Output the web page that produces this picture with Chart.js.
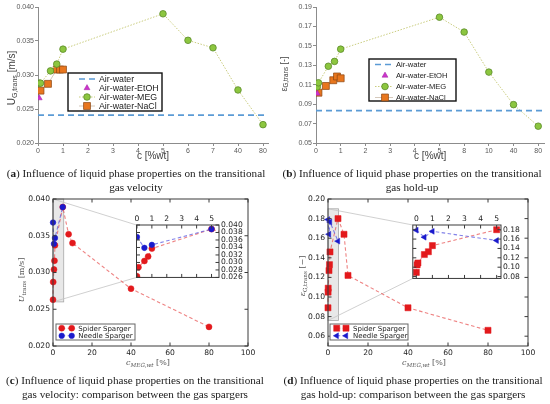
<!DOCTYPE html>
<html>
<head>
<meta charset="utf-8">
<script src="https://cdn.jsdelivr.net/npm/chart.js@4.4.0/dist/chart.umd.min.js"></script>
<style>
  body { margin: 0; background: #fff; }
  #wrap { position: relative; width: 550px; height: 404px; overflow: hidden; }
  canvas { position: absolute; }
  .lbl { position: absolute; white-space: nowrap; transform: translate(-50%, -50%); }
  .rot { transform: translate(-50%, -50%) rotate(-90deg); }
  .xl { font-family: "Liberation Sans", sans-serif; color: #404040; }
  .ml { font-family: "DejaVu Serif", serif; color: #555; font-size: 8px; }
  .lbl sub { font-size: 70%; vertical-align: -0.25em; }
  .cap { position: absolute; white-space: nowrap; transform: translateX(-50%); text-align: center;
         font-family: "Liberation Serif", serif; font-size: 11.2px; color: #1a1a1a; line-height: 14px; }
</style>
</head>
<body>
<div id="wrap">
  <canvas id="ca" width="275" height="162" style="left:0;top:0"></canvas>
  <canvas id="cb" width="275" height="162" style="left:275px;top:0"></canvas>
  <canvas id="cc" width="275" height="180" style="left:0;top:190px"></canvas>
  <canvas id="ccIn" width="127" height="73" style="left:132px;top:211px"></canvas>
  <canvas id="cd" width="275" height="180" style="left:275px;top:190px"></canvas>
  <canvas id="cdIn" width="117" height="74" style="left:408px;top:211px"></canvas>

  <div class="lbl rot xl" style="left:12px;top:78px;font-size:10px">U<sub>G,trans</sub> [m/s]</div>
  <div class="lbl rot xl" style="left:284px;top:74px;font-size:9px">ε<sub>G,trans</sub> [-]</div>
  <div class="lbl rot ml" style="left:22px;top:280px"><i>U</i><sub>trans</sub> [m/s]</div>
  <div class="lbl rot ml" style="left:303px;top:276px"><i>ε</i><sub>G,trans</sub> [−]</div>
  <div class="lbl ml" style="left:148px;top:363px"><i>c<sub>MEG,wt</sub></i> [%]</div>
  <div class="lbl ml" style="left:424px;top:363px"><i>c<sub>MEG,wt</sub></i> [%]</div>

  <div class="cap" style="left:136px;top:166px">(<b>a</b>) Influence of liquid phase properties on the transitional<br>gas velocity</div>
  <div class="cap" style="left:412px;top:166px">(<b>b</b>) Influence of liquid phase properties on the transitional<br>gas hold-up</div>
  <div class="cap" style="left:135px;top:373px">(<b>c</b>) Influence of liquid phase properties on the transitional<br>gas velocity: comparison between the gas spargers</div>
  <div class="cap" style="left:413px;top:373px">(<b>d</b>) Influence of liquid phase properties on the transitional<br>gas hold-up: comparison between the gas spargers</div>
</div>

<script>
// ---- (a) transitional gas velocity, Excel style, uneven concentration axis
const A_TICKS = [0, 1, 2, 3, 4, 5, 6, 7, 40, 80];
const A_WATER_U = 0.0241;
const A_ETOH_C = [0.05];
const A_ETOH_U = [0.0266];
const A_MEG_C = [0.05, 0.1, 0.5, 0.75, 1, 5, 6, 7, 40, 80];
const A_MEG_U = [0.0288, 0.0288, 0.0306, 0.0316, 0.0338, 0.0390, 0.0351, 0.0340, 0.0278, 0.0227];
const A_NACL_C = [0.1, 0.4, 0.75, 0.88, 1];
const A_NACL_U = [0.0277, 0.0287, 0.0308, 0.0308, 0.0308];

// ---- (b) transitional gas hold-up
const B_TICKS = [0, 1, 2, 3, 4, 5, 8, 10, 40, 80];
const B_WATER_E = 0.0833;
const B_ETOH_C = [0.05];
const B_ETOH_E = [0.101];
const B_MEG_C = [0.05, 0.1, 0.5, 0.75, 1, 5, 8, 10, 40, 80];
const B_MEG_E = [0.1077, 0.112, 0.129, 0.134, 0.1466, 0.1795, 0.1642, 0.123, 0.0895, 0.0673];
const B_NACL_C = [0.1, 0.4, 0.7, 0.85, 1];
const B_NACL_E = [0.1018, 0.1087, 0.1146, 0.1185, 0.1166];

// ---- (c) spargers, velocity
const C_SPIDER_C = [0, 0.1, 0.5, 0.75, 1, 5, 8, 10, 40, 80];
const C_SPIDER_U = [0.0263, 0.0287, 0.0304, 0.0316, 0.0337, 0.0389, 0.0352, 0.0340, 0.0278, 0.0226];
const C_NEEDLE_C = [0, 0.5, 1, 5];
const C_NEEDLE_U = [0.0368, 0.0339, 0.0347, 0.0389];
const C_Y_TICKS = [0.020, 0.025, 0.030, 0.035, 0.040];
const C_IN_X_TICKS = [0, 1, 2, 3, 4, 5];
const C_IN_Y_TICKS = [0.026, 0.028, 0.030, 0.032, 0.034, 0.036, 0.038, 0.040];

// ---- (d) spargers, hold-up
const D_SPIDER_C = [0, 0.05, 0.1, 0.5, 0.75, 1, 5, 8, 10, 40, 80];
const D_SPIDER_E = [0.089, 0.105, 0.109, 0.127, 0.133, 0.146, 0.180, 0.164, 0.122, 0.089, 0.066];
const D_NEEDLE_C = [0, 0.5, 1, 5];
const D_NEEDLE_E = [0.179, 0.164, 0.1765, 0.157];
const D_Y_TICKS = [0.06, 0.08, 0.10, 0.12, 0.14, 0.16, 0.18, 0.20];
const D_IN_X_TICKS = [0, 1, 2, 3, 4, 5];
const D_IN_Y_TICKS = [0.08, 0.10, 0.12, 0.14, 0.16, 0.18];

Chart.defaults.font.family = '"Liberation Sans", sans-serif';
Chart.defaults.animation = false;

// position on an axis whose tick labels are evenly spaced but not evenly valued
function axisPos(ticks, c) {
  for (let i = 0; i < ticks.length - 1; i++) {
    if (c <= ticks[i + 1]) return i + (c - ticks[i]) / (ticks[i + 1] - ticks[i]);
  }
  return ticks.length - 1;
}
function pts(cs, ys, ticks) {
  return cs.map((c, i) => ({ x: ticks ? axisPos(ticks, c) : c, y: ys[i] }));
}
function fixTicks(values) {
  return scale => { scale.ticks = values.map(v => ({ value: v })); };
}

function drawMark(ctx, ds, x, y) {
  if (!ds.pointRadius) return;
  ctx.save();
  ctx.fillStyle = ds.pointBackgroundColor;
  ctx.strokeStyle = ds.pointBorderColor;
  ctx.lineWidth = ds.pointBorderWidth || 0;
  ctx.setLineDash([]);
  Chart.helpers.drawPoint(ctx, {
    pointStyle: ds.pointStyle, rotation: ds.pointRotation || 0,
    radius: ds.pointRadius, borderWidth: ds.pointBorderWidth || 0
  }, x, y);
  ctx.restore();
}

// legend drawn inside the plot area
const boxLegend = {
  id: 'boxLegend',
  afterDraw(chart, args, o) {
    if (!o.items) return;
    const ctx = chart.ctx, a = chart.chartArea;
    const bx = a.left + o.dx, by = a.top + o.dy;
    ctx.save();
    ctx.fillStyle = '#fff';
    ctx.fillRect(bx, by, o.w, o.h);
    ctx.strokeStyle = o.border;
    ctx.lineWidth = o.borderWidth;
    ctx.strokeRect(bx, by, o.w, o.h);
    ctx.font = o.font;
    ctx.textBaseline = 'middle';
    o.items.forEach((idx, i) => {
      const ds = chart.data.datasets[idx];
      const cy = by + o.first + o.rowH * i;
      if (ds.showLine) {
        ctx.save();
        ctx.strokeStyle = ds.borderColor;
        ctx.lineWidth = ds.borderWidth;
        ctx.setLineDash(ds.borderDash || []);
        ctx.beginPath();
        ctx.moveTo(bx + o.line[0], cy);
        ctx.lineTo(bx + o.line[1], cy);
        ctx.stroke();
        ctx.restore();
      }
      o.marks.forEach(mx => drawMark(ctx, ds, bx + mx, cy));
      ctx.fillStyle = o.color;
      ctx.fillText(ds.label, bx + o.textX, cy + 0.5);
    });
    ctx.restore();
  }
};

// matplotlib-like frame with inward ticks on all sides
const mplFrame = {
  id: 'mplFrame',
  afterDatasetsDraw(chart, args, o) {
    if (!o.on) return;
    const { ctx, chartArea: a, scales } = chart;
    const L = 3.5;
    ctx.save();
    ctx.strokeStyle = '#3a3a3a';
    ctx.lineWidth = 1;
    ctx.strokeRect(a.left, a.top, a.right - a.left, a.bottom - a.top);
    ctx.beginPath();
    scales.x.ticks.forEach(t => {
      const p = scales.x.getPixelForValue(t.value);
      ctx.moveTo(p, a.top); ctx.lineTo(p, a.top + L);
      ctx.moveTo(p, a.bottom); ctx.lineTo(p, a.bottom - L);
    });
    scales.y.ticks.forEach(t => {
      const p = scales.y.getPixelForValue(t.value);
      ctx.moveTo(a.left, p); ctx.lineTo(a.left + L, p);
      ctx.moveTo(a.right, p); ctx.lineTo(a.right - L, p);
    });
    ctx.stroke();
    ctx.restore();
  }
};

// white background for inset axes
const insetBg = {
  id: 'insetBg',
  beforeDraw(chart, args, o) {
    if (!o.on) return;
    const a = chart.chartArea;
    chart.ctx.save();
    chart.ctx.fillStyle = '#fff';
    chart.ctx.fillRect(a.left, a.top, a.right - a.left, a.bottom - a.top);
    chart.ctx.restore();
  }
};

// shaded zoom region + connector lines to the inset
const zoomMark = {
  id: 'zoomMark',
  beforeDatasetsDraw(chart, args, o) {
    if (!o.inset) return;
    const { ctx, scales: { x, y } } = chart;
    const ins = o.inset, ia = ins.chartArea;
    const x0 = x.getPixelForValue(Math.max(ins.scales.x.min, x.min));
    const x1 = x.getPixelForValue(ins.scales.x.max);
    const yT = y.getPixelForValue(ins.scales.y.max);
    const yB = y.getPixelForValue(ins.scales.y.min);
    const dx = ins.canvas.offsetLeft - chart.canvas.offsetLeft;
    const dy = ins.canvas.offsetTop - chart.canvas.offsetTop;
    ctx.save();
    ctx.fillStyle = 'rgba(190,190,190,0.35)';
    ctx.fillRect(x0, yT, x1 - x0, yB - yT);
    ctx.strokeStyle = 'rgba(160,160,160,0.9)';
    ctx.lineWidth = 0.8;
    ctx.strokeRect(x0, yT, x1 - x0, yB - yT);
    ctx.strokeStyle = '#c4c4c4';
    ctx.beginPath();
    ctx.moveTo(x0, yT); ctx.lineTo(ia.left + dx, ia.top + dy);
    ctx.moveTo(x0, yB); ctx.lineTo(ia.left + dx, ia.bottom + dy);
    ctx.stroke();
    ctx.restore();
  }
};

const PLUGINS = [insetBg, zoomMark, mplFrame, boxLegend];

// ---------- Excel-style panels (a) and (b)
function excelChart(id, o) {
  const water = { label: 'Air-water', data: [{ x: 0, y: o.water }, { x: o.xMax, y: o.water }],
    showLine: true, borderColor: '#5b9bd5', borderWidth: 1.6, borderDash: [6, 4], pointRadius: 0 };
  const etoh = { label: 'Air-water-EtOH', data: o.etoh, showLine: false,
    pointStyle: 'triangle', pointRadius: 3.4, pointBackgroundColor: '#cc33cc',
    pointBorderColor: '#a020a0', pointBorderWidth: 0.5 };
  const meg = { label: 'Air-water-MEG', data: o.meg, showLine: true,
    borderColor: '#c9cc7e', borderWidth: 1, borderDash: [1.5, 1.5],
    pointStyle: 'circle', pointRadius: 3.3, pointBackgroundColor: '#8cc63f',
    pointBorderColor: '#5b8a2a', pointBorderWidth: 0.8 };
  const nacl = { label: 'Air-water-NaCl', data: o.nacl, showLine: true,
    borderColor: '#b9a58f', borderWidth: 0.6,
    pointStyle: 'rect', pointRadius: 4.9, pointBackgroundColor: '#e8761e',
    pointBorderColor: '#8a4612', pointBorderWidth: 0.7 };
  return new Chart(document.getElementById(id), {
    type: 'scatter',
    data: { datasets: [water, etoh, meg, nacl] },
    options: {
      responsive: false,
      layout: { padding: { top: 7, right: o.padRight, left: 0, bottom: 0 } },
      plugins: {
        legend: { display: false }, tooltip: { enabled: false },
        boxLegend: o.legend
      },
      scales: {
        x: {
          type: 'linear', min: 0, max: o.xMax,
          afterBuildTicks: fixTicks(o.ticks.map((_, i) => i)),
          afterFit: s => { s.height = 19; },
          ticks: { autoSkip: false, maxRotation: 0, padding: 1, color: '#595959',
                   font: { size: 7 }, callback: v => o.ticks[v] },
          grid: { drawOnChartArea: false, tickLength: 3, color: '#8c8c8c' },
          border: { color: '#8c8c8c' },
          title: { display: true, text: 'c [%wt]', color: '#404040', font: { size: 10 },
                   padding: { top: 0, bottom: 0 } }
        },
        y: {
          min: o.yMin, max: o.yMax,
          afterBuildTicks: fixTicks(o.yTicks),
          afterFit: s => { s.width = o.yWidth; },
          ticks: { autoSkip: false, padding: 1, color: '#595959', font: { size: 7 },
                   callback: v => v.toFixed(o.yDec) },
          grid: { drawOnChartArea: false, tickLength: 3, color: '#8c8c8c' },
          border: { color: '#8c8c8c' }
        }
      }
    },
    plugins: PLUGINS
  });
}

excelChart('ca', {
  ticks: A_TICKS, xMax: 9.2, water: A_WATER_U,
  etoh: pts(A_ETOH_C, A_ETOH_U, A_TICKS),
  meg: pts(A_MEG_C, A_MEG_U, A_TICKS),
  nacl: pts(A_NACL_C, A_NACL_U, A_TICKS),
  yMin: 0.020, yMax: 0.040, yTicks: [0.020, 0.025, 0.030, 0.035, 0.040], yDec: 3,
  yWidth: 38, padRight: 7,
  legend: { items: [0, 1, 2, 3], dx: 30, dy: 66, w: 94, h: 38, first: 6, rowH: 9,
            line: [11, 27], marks: [19], textX: 31, font: '8.8px "Liberation Sans"',
            color: '#222', border: '#111', borderWidth: 1.4 }
});

excelChart('cb', {
  ticks: B_TICKS, xMax: 9.25, water: B_WATER_E,
  etoh: pts(B_ETOH_C, B_ETOH_E, B_TICKS),
  meg: pts(B_MEG_C, B_MEG_E, B_TICKS),
  nacl: pts(B_NACL_C, B_NACL_E, B_TICKS),
  yMin: 0.05, yMax: 0.19, yTicks: [0.05, 0.07, 0.09, 0.11, 0.13, 0.15, 0.17, 0.19], yDec: 2,
  yWidth: 41, padRight: 3,
  legend: { items: [0, 1, 2, 3], dx: 53, dy: 52, w: 87, h: 42, first: 5.5, rowH: 11,
            line: [6, 24], marks: [16], textX: 27, font: '7.6px "Liberation Sans"',
            color: '#222', border: '#111', borderWidth: 1.4 }
});

// ---------- matplotlib-style panels (c) and (d) with insets
function mplSets(spider, needle, spiderStyle, needleStyle, clip) {
  return [
    Object.assign({ label: 'Spider Sparger', data: spider, showLine: true, order: 1, clip: clip,
      borderColor: 'rgba(232,90,90,0.75)', borderWidth: 1.1, borderDash: [3.5, 2.5],
      pointBackgroundColor: '#e3191c', pointBorderColor: '#e3191c', pointBorderWidth: 0.5 }, spiderStyle),
    Object.assign({ label: 'Needle Sparger', data: needle, showLine: true, order: 0, clip: clip,
      borderColor: 'rgba(90,90,225,0.75)', borderWidth: 1.1, borderDash: [3.5, 2.5],
      pointBackgroundColor: '#1a1acc', pointBorderColor: '#1a1acc', pointBorderWidth: 0.5 }, needleStyle)
  ];
}
const TICK_FONT = { family: '"DejaVu Sans"', size: 7.6 };

function insetChart(id, o) {
  return new Chart(document.getElementById(id), {
    type: 'scatter',
    data: { datasets: mplSets(o.spider, o.needle, o.sStyle, o.nStyle, 0) },
    options: {
      responsive: false,
      layout: { padding: { top: 0, right: 0, left: 4, bottom: 4 } },
      plugins: { legend: { display: false }, tooltip: { enabled: false },
                 insetBg: { on: true }, mplFrame: { on: true } },
      scales: {
        x: {
          type: 'linear', position: 'top', min: o.xMin, max: o.xMax,
          afterBuildTicks: fixTicks(o.xTicks),
          afterFit: s => { s.height = 14; },
          ticks: { autoSkip: false, maxRotation: 0, padding: 1, color: '#222', font: TICK_FONT },
          grid: { display: false, drawTicks: false }, border: { display: false }
        },
        y: {
          position: 'right', min: o.yMin, max: o.yMax,
          afterBuildTicks: fixTicks(o.yTicks),
          afterFit: s => { s.width = o.yWidth; },
          ticks: { autoSkip: false, padding: 2, color: '#222', font: TICK_FONT,
                   callback: v => v.toFixed(o.yDec) },
          grid: { display: false, drawTicks: false }, border: { display: false }
        }
      }
    },
    plugins: PLUGINS
  });
}

function mainChart(id, o) {
  return new Chart(document.getElementById(id), {
    type: 'scatter',
    data: { datasets: mplSets(o.spider, o.needle, o.sStyle, o.nStyle, false) },
    options: {
      responsive: false,
      layout: { padding: { top: 9, right: o.padRight, left: 0, bottom: 0 } },
      plugins: {
        legend: { display: false }, tooltip: { enabled: false },
        mplFrame: { on: true },
        zoomMark: { inset: o.inset },
        boxLegend: { items: [0, 1], dx: o.lx, dy: 125, w: o.lw, h: 16, first: 4.2, rowH: 7.6,
                     line: o.lmarks, marks: o.lmarks, textX: o.ltext, font: '7px "DejaVu Sans"',
                     color: '#222', border: '#666', borderWidth: 1 }
      },
      scales: {
        x: {
          type: 'linear', min: 0, max: 100,
          afterFit: s => { s.height = 24; },
          ticks: { stepSize: 20, autoSkip: false, maxRotation: 0, padding: 2, color: '#222', font: TICK_FONT },
          grid: { display: false, drawTicks: false }, border: { display: false }
        },
        y: {
          min: o.yMin, max: o.yMax,
          afterBuildTicks: fixTicks(o.yTicks),
          afterFit: s => { s.width = 53; },
          ticks: { autoSkip: false, padding: 3, color: '#222', font: TICK_FONT,
                   callback: v => v.toFixed(o.yDec) },
          grid: { display: false, drawTicks: false }, border: { display: false }
        }
      }
    },
    plugins: PLUGINS
  });
}

const cCircleS = { pointStyle: 'circle', pointRadius: 3 };
const cCircleN = { pointStyle: 'circle', pointRadius: 2.8 };
const dSquare = { pointStyle: 'rect', pointRadius: 4.3 };
const dTriangle = { pointStyle: 'triangle', pointRotation: -90, pointRadius: 3.4 };

const cIn = insetChart('ccIn', {
  spider: pts(C_SPIDER_C, C_SPIDER_U), needle: pts(C_NEEDLE_C, C_NEEDLE_U),
  sStyle: cCircleS, nStyle: cCircleN,
  xMin: -0.03, xMax: 5.5, xTicks: C_IN_X_TICKS,
  yMin: 0.026, yMax: 0.040, yTicks: C_IN_Y_TICKS, yDec: 3, yWidth: 40
});
mainChart('cc', {
  spider: pts(C_SPIDER_C, C_SPIDER_U), needle: pts(C_NEEDLE_C, C_NEEDLE_U),
  sStyle: cCircleS, nStyle: cCircleN, inset: cIn,
  yMin: 0.020, yMax: 0.040, yTicks: C_Y_TICKS, yDec: 3, padRight: 27,
  lx: 3, lw: 79, lmarks: [5.7, 15.7], ltext: 22.3
});

const dIn = insetChart('cdIn', {
  spider: pts(D_SPIDER_C, D_SPIDER_E), needle: pts(D_NEEDLE_C, D_NEEDLE_E),
  sStyle: dSquare, nStyle: dTriangle,
  xMin: -0.22, xMax: 5.27, xTicks: D_IN_X_TICKS,
  yMin: 0.076, yMax: 0.19, yTicks: D_IN_Y_TICKS, yDec: 2, yWidth: 24
});
mainChart('cd', {
  spider: pts(D_SPIDER_C, D_SPIDER_E), needle: pts(D_NEEDLE_C, D_NEEDLE_E),
  sStyle: dSquare, nStyle: dTriangle, inset: dIn,
  yMin: 0.05, yMax: 0.20, yTicks: D_Y_TICKS, yDec: 2, padRight: 22,
  lx: 2, lw: 78, lmarks: [6.7, 16], ltext: 23
});
</script>
</body>
</html>
